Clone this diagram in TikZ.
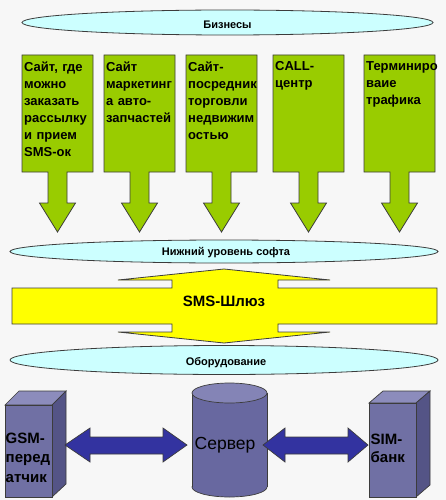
\documentclass[tikz,border=0pt]{standalone}
\usepackage{fontspec}
\setmainfont{Liberation Sans}
\usetikzlibrary{shapes.geometric}
\definecolor{bg}{RGB}{247,247,247}
\definecolor{greenf}{RGB}{153,204,0}
\definecolor{ellf}{RGB}{204,255,255}
\definecolor{yel}{RGB}{255,255,0}
\definecolor{boxfront}{RGB}{112,112,164}
\definecolor{boxtop}{RGB}{140,140,188}
\definecolor{boxside}{RGB}{84,84,134}
\definecolor{cylbody}{RGB}{104,104,160}
\definecolor{cyltop}{RGB}{132,132,182}
\definecolor{arrb}{RGB}{51,51,160}
\definecolor{edge}{RGB}{60,60,60}
\begin{document}
\begin{tikzpicture}[x=1pt,y=-1pt,
  layer/.style={ellipse, draw=edge, fill=ellf, line width=0.8pt, inner sep=0pt},
  layertext/.style={inner sep=0pt, font=\bfseries\fontsize{11}{13}\selectfont},
  callout/.style={draw=edge, fill=greenf, line width=0.8pt, line join=miter},
  calltext/.style={anchor=north west, inner sep=0pt, text width=69pt, align=left, font=\bfseries\fontsize{13}{17}\selectfont},
  yelarrow/.style={draw=edge, fill=yel, line width=0.8pt, line join=miter},
  face/.style={draw=edge, line width=0.7pt, line join=miter},
  bluearrow/.style={draw=edge, fill=arrb, line width=0.7pt, line join=miter},
  devtext/.style={anchor=north west, inner sep=0pt, align=left, font=\bfseries\fontsize{15}{19.5}\selectfont}]
\fill[bg] (0,0) rectangle (446,500);
\useasboundingbox (0,0) rectangle (446,500);

% top layer
\node[layer, minimum width=411pt, minimum height=25pt] (biz) at (227.5,22.5) {};
\node[layertext] (biztext) at (227.5,24.5) {Бизнесы};

% green callouts
\foreach \L in {22,104,186,273,364}{
  \pgfmathsetmacro\c{\L+35.5}
  \path[callout] (\L,55) -- ({\L+71},55) -- ({\L+71},172) -- ({\c+9.5},172) -- ({\c+9.5},203)
    -- ({\c+18},203) -- (\c,232) -- ({\c-18},203) -- ({\c-9.5},203) -- ({\c-9.5},172)
    -- (\L,172) -- cycle;
}
\node[calltext] (b1) at (24,61.5) {Сайт, где\\можно\\заказать\\рассылку\\и прием\\SMS-ок};
\node[calltext] (b2) at (106,61.5) {Сайт\\маркетинг\\а авто-\\запчастей};
\node[calltext] (b3) at (188,61.5) {Сайт-\\посредник\\торговли\\недвижим\\остью};
\node[calltext] (b4) at (275,61.5) {CALL-\\центр};
\node[calltext] (b5) at (366,61.5) {Терминиро\\ваие\\трафика};

% middle layer
\node[layer, minimum width=428pt, minimum height=23pt] (soft) at (224,251.5) {};
\node[layertext] (softtext) at (226,253) {Нижний уровень софта};

% SMS gateway
\path[yelarrow] (12,288) -- (172,288) -- (172,280) -- (118,280) -- (224,269) -- (330,280)
  -- (278,280) -- (278,288) -- (437,288) -- (437,324) -- (278,324) -- (278,332)
  -- (330,332) -- (224,343) -- (118,332) -- (172,332) -- (172,324) -- (12,324) -- cycle;
\node[inner sep=0pt, font=\bfseries\fontsize{15}{17}\selectfont] (sms) at (224,301.5) {SMS-Шлюз};

% hardware layer
\node[layer, minimum width=428pt, minimum height=29pt] (hw) at (224,360) {};
\node[layertext] (hwtext) at (226,362.5) {Оборудование};

% GSM box
\path[face, fill=boxtop] (5,405) -- (19,391) -- (66,391) -- (52,405) -- cycle;
\path[face, fill=boxside] (52,405) -- (66,391) -- (66,484) -- (52,497) -- cycle;
\path[face, fill=boxfront] (5,405) rectangle (52,497);
\node[devtext] (gsm) at (5.5,432.5) {GSM-\\перед\\атчик};

% SIM box
\path[face, fill=boxtop] (369,403) -- (383,391) -- (430,391) -- (416,403) -- cycle;
\path[face, fill=boxside] (416,403) -- (430,391) -- (430,485) -- (416,497) -- cycle;
\path[face, fill=boxfront] (369,403) rectangle (416,497);
\node[devtext, font=\bfseries\fontsize{15}{18}\selectfont] (sim) at (370.5,434) {SIM-\\банк};

% server cylinder
\path[face, fill=cylbody] (229.5,487) ellipse [x radius=37.5, y radius=10];
\fill[cylbody] (192,393) rectangle (267,487);
\draw[face] (192,393) -- (192,487);
\draw[face] (267,393) -- (267,487);
\path[face, fill=cyltop] (229.5,393) ellipse [x radius=37.5, y radius=10];
\node[inner sep=0pt, font=\fontsize{17.5}{19}\selectfont] (srv) at (225,445) {Сервер};

% double arrows
\path[bluearrow] (65,445) -- (90,428) -- (90,437) -- (163,437) -- (163,428) -- (187,445)
  -- (163,462) -- (163,454) -- (90,454) -- (90,462) -- cycle;
\path[bluearrow] (263,445) -- (285,428) -- (285,437) -- (348,437) -- (348,428) -- (368,445)
  -- (348,462) -- (348,454) -- (285,454) -- (285,462) -- cycle;
\end{tikzpicture}
\end{document}
